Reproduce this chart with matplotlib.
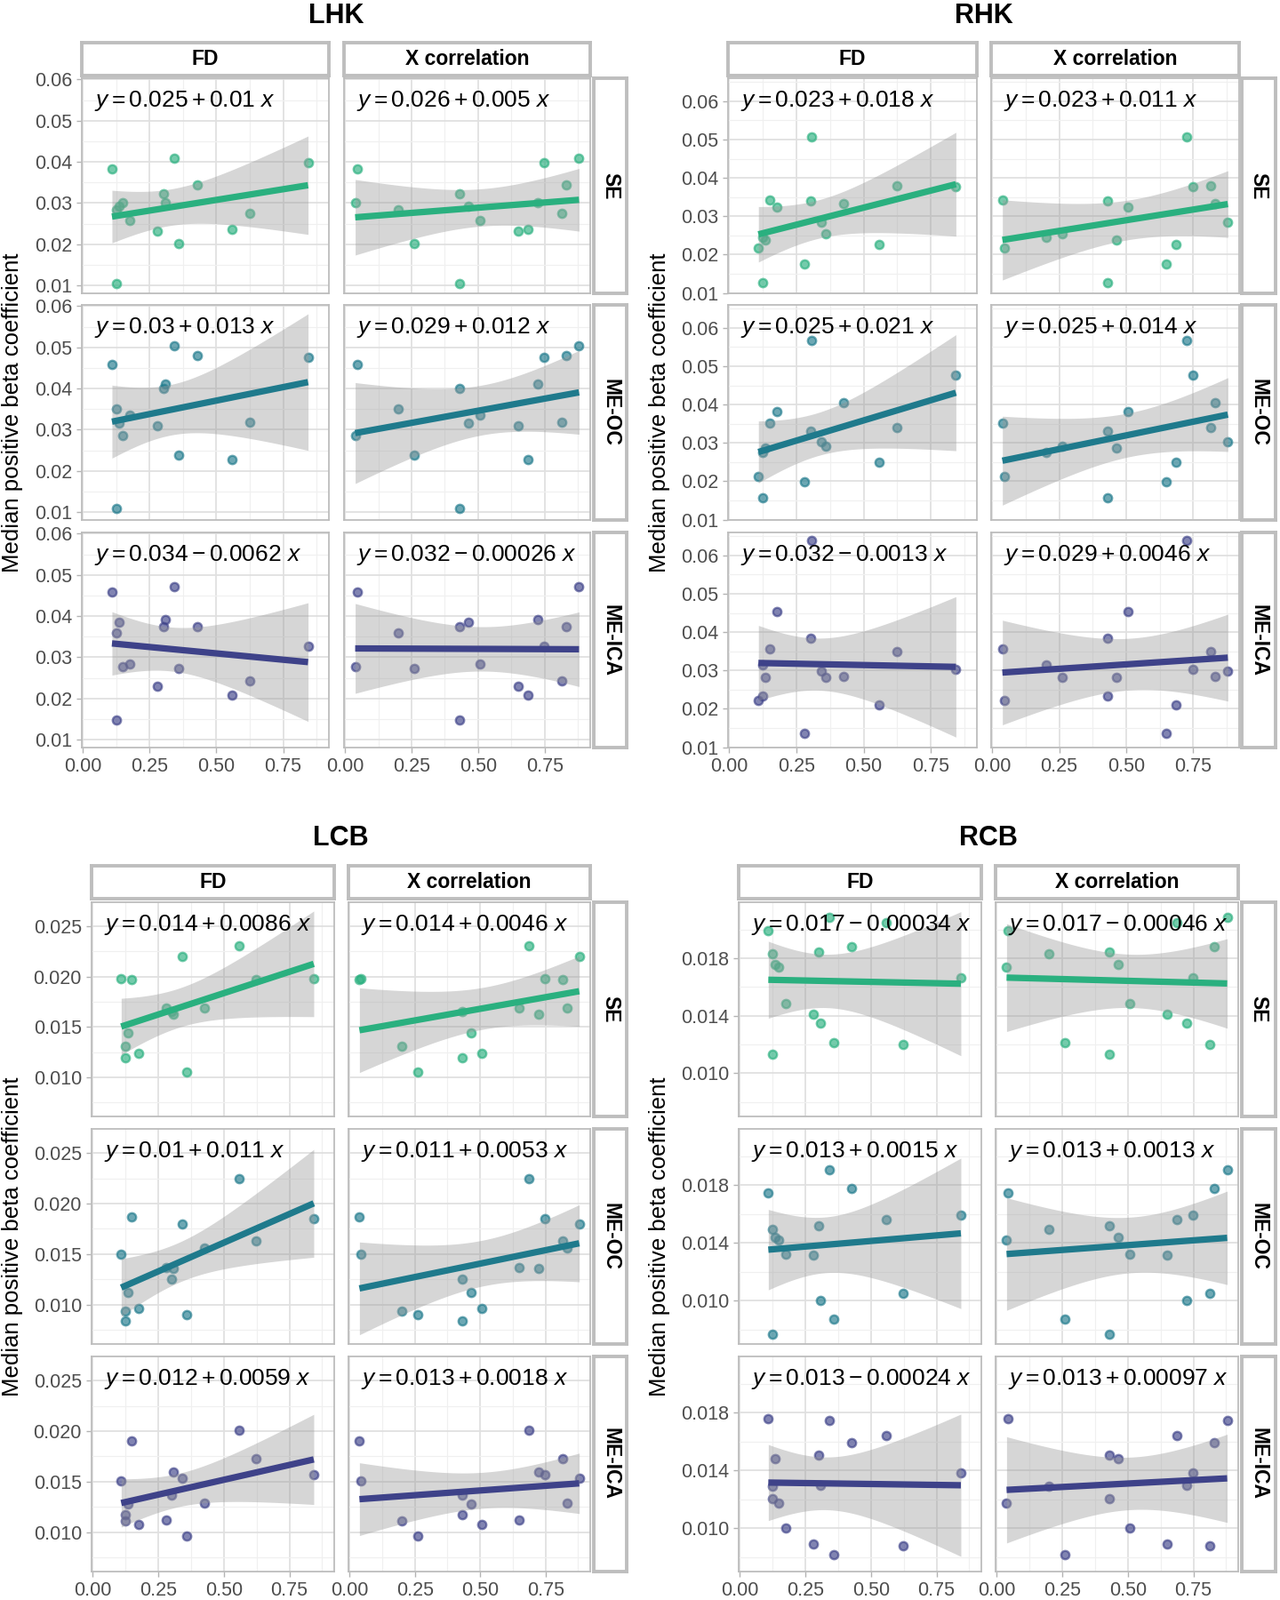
import numpy as np
import matplotlib.pyplot as plt

plt.rcParams['font.family'] = ['Liberation Sans', 'DejaVu Sans']
plt.rcParams['mathtext.fontset'] = 'custom'
plt.rcParams['mathtext.rm'] = 'Liberation Sans'
plt.rcParams['mathtext.it'] = 'Liberation Sans:italic'

# subject-level motion metrics (x)
fd = [0.109, 0.125, 0.125, 0.136, 0.150, 0.177, 0.279, 0.302, 0.308, 0.343,
      0.360, 0.427, 0.557, 0.624, 0.843]
xcorr = [0.045, 0.430, 0.200, 0.465, 0.038, 0.506, 0.650, 0.430, 0.725, 0.879,
         0.260, 0.831, 0.687, 0.814, 0.748]

metrics = ['FD', 'X correlation']
methods = ['SE', 'ME-OC', 'ME-ICA']

# median positive beta coefficient per subject
lhk_se = [0.0383, 0.0104, 0.0284, 0.0293, 0.0301, 0.0257, 0.0232, 0.0323, 0.0301, 0.0408,
          0.0201, 0.0345, 0.0237, 0.0276, 0.0398]
lhk_oc = [0.0458, 0.0108, 0.0350, 0.0316, 0.0286, 0.0336, 0.0309, 0.0400, 0.0410, 0.0503,
          0.0239, 0.0481, 0.0227, 0.0318, 0.0476]
lhk_ica = [0.0458, 0.0147, 0.0360, 0.0386, 0.0277, 0.0284, 0.0229, 0.0375, 0.0392, 0.0472,
           0.0272, 0.0375, 0.0209, 0.0243, 0.0327]

rhk_se = [0.0217, 0.0127, 0.0245, 0.0237, 0.0343, 0.0323, 0.0176, 0.0339, 0.0506, 0.0285,
          0.0254, 0.0332, 0.0227, 0.0379, 0.0378]
rhk_oc = [0.0212, 0.0158, 0.0275, 0.0287, 0.0351, 0.0382, 0.0198, 0.0331, 0.0567, 0.0302,
          0.0292, 0.0405, 0.0250, 0.0339, 0.0476]
rhk_ica = [0.0223, 0.0234, 0.0315, 0.0283, 0.0356, 0.0453, 0.0135, 0.0383, 0.0638, 0.0298,
           0.0283, 0.0285, 0.0211, 0.0349, 0.0303]

lcb_se = [0.0198, 0.0119, 0.0131, 0.0144, 0.0197, 0.0124, 0.0169, 0.0165, 0.0163, 0.0220,
          0.0105, 0.0169, 0.0231, 0.0197, 0.0198]
lcb_oc = [0.0150, 0.0084, 0.0094, 0.0112, 0.0187, 0.0096, 0.0137, 0.0125, 0.0136, 0.0180,
          0.0090, 0.0156, 0.0225, 0.0163, 0.0185]
lcb_ica = [0.0151, 0.0117, 0.0111, 0.0128, 0.0190, 0.0108, 0.0112, 0.0137, 0.0160, 0.0153,
           0.0096, 0.0129, 0.0201, 0.0173, 0.0157]

rcb_se = [0.01993, 0.01134, 0.0183, 0.01756, 0.01738, 0.01488, 0.01408, 0.01846, 0.0135, 0.02083,
          0.01216, 0.01881, 0.0205, 0.0120, 0.01666]
rcb_oc = [0.01749, 0.0077, 0.01494, 0.01441, 0.01423, 0.01324, 0.01318, 0.01521, 0.0100, 0.01908,
          0.00875, 0.01775, 0.0156, 0.0105, 0.0159]
rcb_ica = [0.01762, 0.01204, 0.0129, 0.01484, 0.01173, 0.01003, 0.0089, 0.01508, 0.01296, 0.01746,
           0.00815, 0.01592, 0.01641, 0.00876, 0.01384]

# fitted equations as printed (rows: SE, ME-OC, ME-ICA; cols: FD, X correlation)
lhk_eq = [['0.025 + 0.01', '0.026 + 0.005'], ['0.03 + 0.013', '0.029 + 0.012'],
          ['0.034 - 0.0062', '0.032 - 0.00026']]
rhk_eq = [['0.023 + 0.018', '0.023 + 0.011'], ['0.025 + 0.021', '0.025 + 0.014'],
          ['0.032 - 0.0013', '0.029 + 0.0046']]
lcb_eq = [['0.014 + 0.0086', '0.014 + 0.0046'], ['0.01 + 0.011', '0.011 + 0.0053'],
          ['0.012 + 0.0059', '0.013 + 0.0018']]
rcb_eq = [['0.017 - 0.00034', '0.017 - 0.00046'], ['0.013 + 0.0015', '0.013 + 0.0013'],
          ['0.013 - 0.00024', '0.013 + 0.00097']]

colors = ['#2AB07F', '#1F7A8C', '#3E4289']
t975 = 2.160  # t quantile, df = 13

W, H = 1440, 1800
fig = plt.figure(figsize=(W / 100, H / 100), dpi=100)


def add_ax(x0, x1, y0, y1):
    return fig.add_axes([x0 / W, 1 - y1 / H, (x1 - x0) / W, (y1 - y0) / H])


def strip(x0, x1, y0, y1, label, rot=0):
    a = add_ax(x0, x1, y0, y1)
    a.set_xticks([])
    a.set_yticks([])
    a.set_facecolor('white')
    for s in a.spines.values():
        s.set_color('#BEBEBE')
        s.set_linewidth(2.8)
    a.text(0.5, 0.5, label, transform=a.transAxes, ha='center', va='center',
           fontsize=16.5, fontweight='bold', rotation=rot)


blocks = [
    dict(name='LHK', ys=[lhk_se, lhk_oc, lhk_ica], eqs=lhk_eq,
         cols=[(92, 370), (387, 664)], rs=(668, 705), top=(48, 85),
         rows=[(88, 330), (343, 585), (599, 841)], title_y=18, ylab_x=14,
         ylim=(0.0081, 0.0603), yt=[0.01, 0.02, 0.03, 0.04, 0.05, 0.06],
         ym=[0.015, 0.025, 0.035, 0.045, 0.055], fmt='%.2f'),
    dict(name='RHK', ys=[rhk_se, rhk_oc, rhk_ica], eqs=rhk_eq,
         cols=[(819, 1099), (1115, 1394)], rs=(1397, 1435), top=(48, 85),
         rows=[(88, 330), (343, 585), (599, 841)], title_y=18, ylab_x=742,
         ylim=(0.0099, 0.0660), yt=[0.01, 0.02, 0.03, 0.04, 0.05, 0.06],
         ym=[0.015, 0.025, 0.035, 0.045, 0.055, 0.065], fmt='%.2f'),
    dict(name='LCB', ys=[lcb_se, lcb_oc, lcb_ica], eqs=lcb_eq,
         cols=[(103, 376), (392, 664)], rs=(668, 705), top=(974, 1011),
         rows=[(1015, 1256), (1270, 1512), (1526, 1768)], title_y=943, ylab_x=14,
         ylim=(0.0061, 0.0274), yt=[0.010, 0.015, 0.020, 0.025],
         ym=[0.0075, 0.0125, 0.0175, 0.0225], fmt='%.3f'),
    dict(name='RCB', ys=[rcb_se, rcb_oc, rcb_ica], eqs=rcb_eq,
         cols=[(831, 1104), (1120, 1393)], rs=(1397, 1435), top=(974, 1011),
         rows=[(1015, 1256), (1270, 1512), (1526, 1768)], title_y=943, ylab_x=742,
         ylim=(0.0070, 0.0219), yt=[0.010, 0.014, 0.018],
         ym=[0.008, 0.012, 0.016, 0.020], fmt='%.3f'),
]

xlim = (-0.004, 0.921)
xt = [0.0, 0.25, 0.5, 0.75]
xm = [0.125, 0.375, 0.625, 0.875]

for b in blocks:
    c0, c1 = b['cols'][0][0], b['cols'][1][1]
    fig.text((c0 + c1) / 2 / W, 1 - b['title_y'] / H, b['name'], ha='center', va='center',
             fontsize=22, fontweight='bold')
    r0, r1 = b['rows'][0][0], b['rows'][2][1]
    fig.text(b['ylab_x'] / W, 1 - (r0 + r1) / 2 / H, 'Median positive beta coefficient',
             rotation=90, ha='center', va='center', fontsize=18.5)
    for j, m in enumerate(metrics):
        strip(b['cols'][j][0], b['cols'][j][1], b['top'][0], b['top'][1], m)
    for i, meth in enumerate(methods):
        strip(b['rs'][0], b['rs'][1], b['rows'][i][0], b['rows'][i][1], meth, rot=-90)
        y = np.array(b['ys'][i])
        for j, xs in enumerate([fd, xcorr]):
            x = np.array(xs)
            ax = add_ax(b['cols'][j][0], b['cols'][j][1], b['rows'][i][0], b['rows'][i][1])
            ax.set_xlim(xlim)
            ax.set_ylim(b['ylim'])
            ax.set_xticks(xt)
            ax.set_xticks(xm, minor=True)
            ax.set_yticks(b['yt'])
            ax.set_yticks(b['ym'], minor=True)
            ax.grid(which='major', color='#E0E0E0', lw=1.3)
            ax.grid(which='minor', color='#F0F0F0', lw=0.9)
            ax.set_axisbelow(True)
            for s in ax.spines.values():
                s.set_color('#BDBDBD')
                s.set_linewidth(1.3)
            ax.tick_params(which='minor', length=0)
            ax.tick_params(which='major', color='#B3B3B3', length=4, width=1,
                           labelcolor='#4D4D4D', labelsize=15.5, pad=4)
            if j == 0:
                ax.set_yticklabels([b['fmt'] % v for v in b['yt']])
            else:
                ax.tick_params(axis='y', left=False, labelleft=False)
            if i == 2:
                ax.set_xticklabels(['%.2f' % v for v in xt])
            else:
                ax.tick_params(axis='x', bottom=False, labelbottom=False)

            col = colors[i]
            ax.scatter(x, y, s=46, facecolor=col, edgecolor=col, alpha=0.65, lw=1.7, zorder=2)

            # linear fit with 95% confidence band
            b1, b0 = np.polyfit(x, y, 1)
            n = len(x)
            xg = np.linspace(x.min(), x.max(), 100)
            yg = b0 + b1 * xg
            resid = y - (b0 + b1 * x)
            s = np.sqrt(np.sum(resid ** 2) / (n - 2))
            se = s * np.sqrt(1 / n + (xg - x.mean()) ** 2 / np.sum((x - x.mean()) ** 2))
            ax.fill_between(xg, yg - t975 * se, yg + t975 * se, color='#999999', alpha=0.4,
                            lw=0, zorder=3)
            ax.plot(xg, yg, color=col, lw=5.2, solid_capstyle='butt', zorder=4)

            eq = b['eqs'][i][j]
            ax.text(0.05, 0.895, r'$y = %s\ x$' % eq, transform=ax.transAxes,
                    ha='left', va='center', fontsize=19, zorder=5)

fig.savefig('out.png', dpi=100)
